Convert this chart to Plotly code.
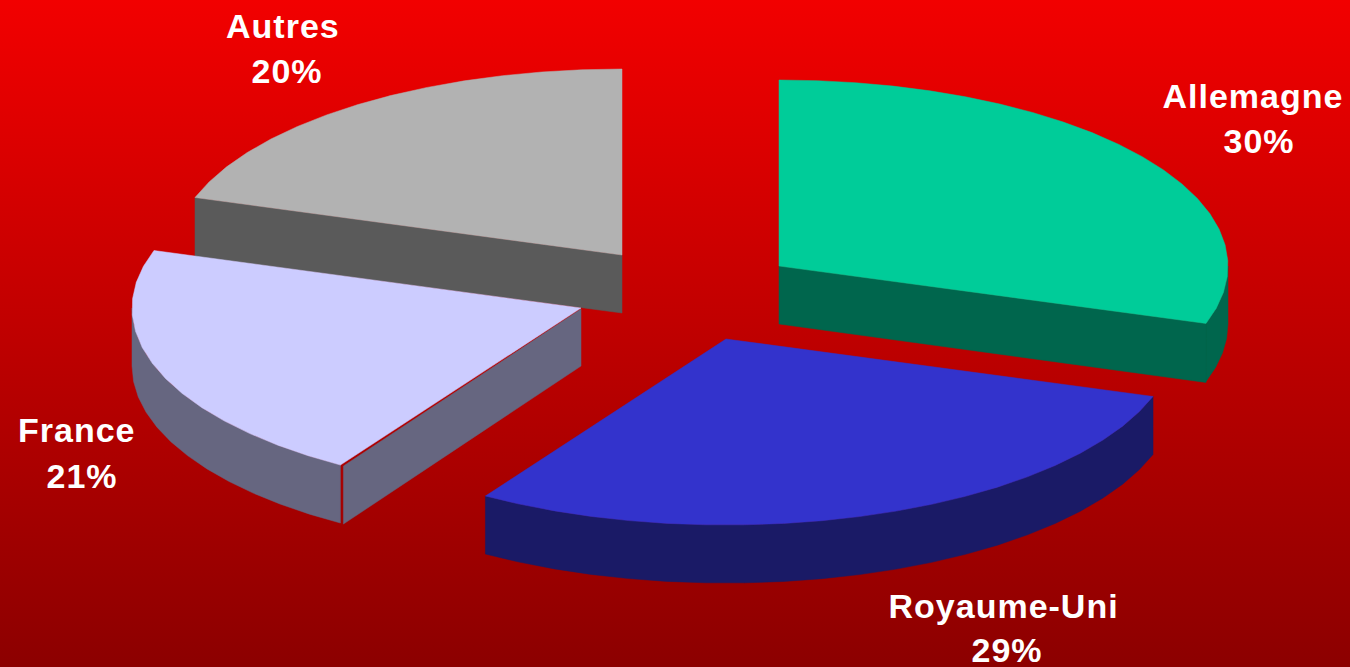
import math
import plotly.graph_objects as go

# Data
categories = ["Allemagne", "Royaume-Uni", "France", "Autres"]
shares = [30, 29, 21, 20]

# Styling and layout, in the 1350x667 plot space
WIDTH, HEIGHT = 1350, 667
RX, RY, DEPTH = 449, 186, 58
STEP_DEG = 5
top_colors = ["#00CC99", "#3333CC", "#CCCCFF", "#B2B2B2"]
side_colors = ["#00664D", "#1A1A66", "#666680", "#5A5A5A"]
apexes = [(779, 266), (726, 339), (581, 308), (622, 255)]
name_centers = [(1253, 96), (1003, 606), (77, 430), (283, 26)]
pct_centers = [(1259, 141), (1007, 650), (82, 476), (287, 71)]
seam_width = [0, 0, 3, 0]
draw_order = [3, 0, 2, 1]


def project(apex, deg, drop=0):
    a = math.radians(deg)
    return apex[0] + RX * math.sin(a), apex[1] - RY * math.cos(a) + drop


def arc_angles(a0, a1):
    n = max(2, int(round((a1 - a0) / STEP_DEG)))
    return [a0 + (a1 - a0) * i / n for i in range(n + 1)]


def polygon(points):
    xs = [p[0] for p in points] + [points[0][0]]
    ys = [p[1] for p in points] + [points[0][1]]
    return xs, ys


fig = go.Figure()

# Background gradient
fig.add_trace(go.Scatter(
    x=[0, WIDTH, WIDTH, 0, 0], y=[0, 0, HEIGHT, HEIGHT, 0],
    mode="lines", line=dict(width=0), fill="toself",
    fillgradient=dict(type="vertical", colorscale=[[0, "#8C0000"], [1, "#F20000"]]),
    hoverinfo="skip", showlegend=False,
))

# Angular extents follow from the shares
total = sum(shares)
starts, ends, cum = [], [], 0.0
for s in shares:
    starts.append(cum * 360 / total)
    cum += s
    ends.append(cum * 360 / total)

for i in draw_order:
    apex, a0, a1 = apexes[i], starts[i], ends[i]
    rim = [project(apex, a) for a in arc_angles(a0, a1)]

    faces = []
    # outer rim band, visible where the rim faces the viewer
    f0, f1 = max(a0, 90), min(a1, 270)
    if f0 < f1:
        front = arc_angles(f0, f1)
        faces.append([project(apex, a) for a in front] +
                     [project(apex, a, DEPTH) for a in reversed(front)])
    # radial cut faces: only those turned towards the viewer
    dx = seam_width[i]
    visible_cuts = []
    if 180 < a0 < 360:
        visible_cuts.append(a0)
    if 0 < a1 < 180:
        visible_cuts.append(a1)
    for a in visible_cuts:
        p = project(apex, a)
        faces.append([(apex[0], apex[1] + (1 if dx else 0)),
                      (p[0] + dx, p[1] + dx / 3),
                      (p[0] + dx, p[1] + DEPTH + 1),
                      (apex[0], apex[1] + DEPTH)])
    for face in faces:
        xs, ys = polygon(face)
        fig.add_trace(go.Scatter(
            x=xs, y=ys, mode="lines", fill="toself", fillcolor=side_colors[i],
            line=dict(color=side_colors[i], width=0.5),
            hoverinfo="skip", showlegend=False,
        ))
    xs, ys = polygon([apex] + rim)
    fig.add_trace(go.Scatter(
        x=xs, y=ys, mode="lines", fill="toself", fillcolor=top_colors[i],
        line=dict(color=top_colors[i], width=0.5),
        name=categories[i], hoverinfo="name", showlegend=False,
    ))

label_font = dict(family="Liberation Sans, Arial, sans-serif", size=34, color="white", weight="bold")
for cat, val, nc, pc in zip(categories, shares, name_centers, pct_centers):
    fig.add_annotation(x=nc[0], y=nc[1], text=cat, showarrow=False,
                       xanchor="center", yanchor="middle", font=label_font)
    fig.add_annotation(x=pc[0], y=pc[1], text=f"{val}%", showarrow=False,
                       xanchor="center", yanchor="middle", font=label_font)

fig.update_layout(
    width=WIDTH, height=HEIGHT, margin=dict(l=0, r=0, t=0, b=0),
    paper_bgcolor="#C00000", plot_bgcolor="#C00000", showlegend=False,
    xaxis=dict(range=[0, WIDTH], visible=False, fixedrange=True),
    yaxis=dict(range=[HEIGHT, 0], visible=False, fixedrange=True),
)
fig.write_html(
    "out.html", config=dict(displayModeBar=False),
    post_script=(
        "document.body.style.margin='0';document.body.style.overflow='hidden';"
        "document.querySelectorAll('.annotation-text').forEach(function(t){t.style.letterSpacing='1px';});"
    ),
)
